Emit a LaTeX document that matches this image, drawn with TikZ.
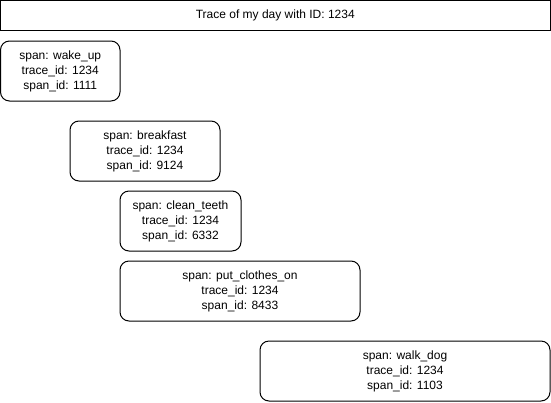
\documentclass[tikz,border=0pt]{standalone}
\usepackage{fontspec}
\setmainfont{Liberation Sans}
\begin{document}
\begin{tikzpicture}[x=1pt,y=-1pt,
  box/.style={draw=black,line width=1pt,align=center,inner sep=0pt,
    font=\fontsize{12}{15}\selectfont},
  spanbox/.style={box,rounded corners=9pt,minimum height=60pt}]
\useasboundingbox (0,0) rectangle (551,402);
\fill[white] (0,0) rectangle (551,402);
\node[box,minimum width=549.5pt,minimum height=29.5pt] (title) at (275.25,15.25) {Trace of my day with ID: 1234};
\node[spanbox,minimum width=119.5pt] (wake) at (60.25,71) {span: wake\_up\\trace\_id: 1234\\span\_id: 1111};
\node[spanbox,minimum width=150pt] (breakfast) at (145,151) {span: breakfast\\trace\_id: 1234\\span\_id: 9124};
\node[spanbox,minimum width=121pt] (teeth) at (180.5,221) {span: clean\_teeth\\trace\_id: 1234\\span\_id: 6332};
\node[spanbox,minimum width=240pt] (clothes) at (240,291) {span: put\_clothes\_on\\trace\_id: 1234\\span\_id: 8433};
\node[spanbox,minimum width=290pt] (dog) at (405,371) {span: walk\_dog\\trace\_id: 1234\\span\_id: 1103};
\end{tikzpicture}
\end{document}
